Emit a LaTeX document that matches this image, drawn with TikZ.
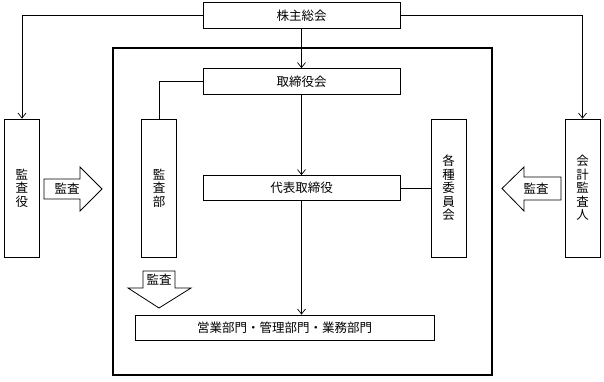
\documentclass[tikz,border=0pt]{standalone}
\usepackage{fontspec}
\newfontfamily\jp{Noto Sans CJK JP}
\usetikzlibrary{arrows.meta}

\begin{document}
\begin{tikzpicture}[x=1pt,y=-1pt,
    box/.style={draw, line width=0.8pt, inner sep=0pt, font=\jp\fontsize{12.5}{13.5}\selectfont},
    tate/.style={box, align=center, minimum width=35pt, minimum height=138pt},
    yoko/.style={box, minimum width=197pt, minimum height=26pt},
    link/.style={line width=0.7pt},
    arr/.style={link, -{Straight Barb[length=5pt,width=8pt]}},
    bigarrow/.style={draw, line width=0.8pt, fill=white},
    label/.style={inner sep=0pt, font=\jp\fontsize{12.5}{13.5}\selectfont}]
    \useasboundingbox (0,0) rectangle (604,381);

    % outer frame
    \draw[line width=1.3pt] (113,48) rectangle (492,375);

    \node[yoko] (kabu) at (301.5,15.5) {株主総会};
    \node[yoko] (tori) at (301.5,81.5) {取締役会};
    \node[yoko, minimum height=25pt] (daihyo) at (301.5,188) {代表取締役};
    \node[box, minimum width=299pt, minimum height=25pt] (bumon) at (284.5,327.5) {営業部門・管理部門・業務部門};

    \node[tate] (kansayaku) at (22,188) {監\\査\\役};
    \node[tate] (kansabu) at (159,188) {監\\査\\部};
    \node[tate] (iinkai) at (448.5,188) {各\\種\\委\\員\\会};
    \node[tate] (kaikei) at (582.5,188) {会\\計\\監\\査\\人};

    \draw[arr] (kabu.west) -| (kansayaku.north);
    \draw[arr] (kabu.east) -| (kaikei.north);
    \draw[arr] (kabu) -- (tori);
    \draw[link] (tori.west) -| (kansabu.north);
    \draw[arr] (tori) -- (daihyo);
    \draw[link] (daihyo.east) -- (iinkai.west);
    \draw[arr] (daihyo.south) -- (daihyo.south |- bumon.north);

    % audit arrows
    \draw[bigarrow] (44,179) -- (80,179) -- (80,167) -- (102,189) -- (80,211) -- (80,199) -- (44,199) -- cycle;
    \node[label] (audit1) at (67,189) {監査};

    \draw[bigarrow] (561,177) -- (524,177) -- (524,167) -- (502,188.5) -- (524,211) -- (524,200) -- (561,200) -- cycle;
    \node[label] (audit2) at (536,188.5) {監査};

    \draw[bigarrow] (143,271) -- (175,271) -- (175,288) -- (191,288) -- (159,308) -- (128,288) -- (143,288) -- cycle;
    \node[label] (audit3) at (159,280) {監査};
\end{tikzpicture}
\end{document}
